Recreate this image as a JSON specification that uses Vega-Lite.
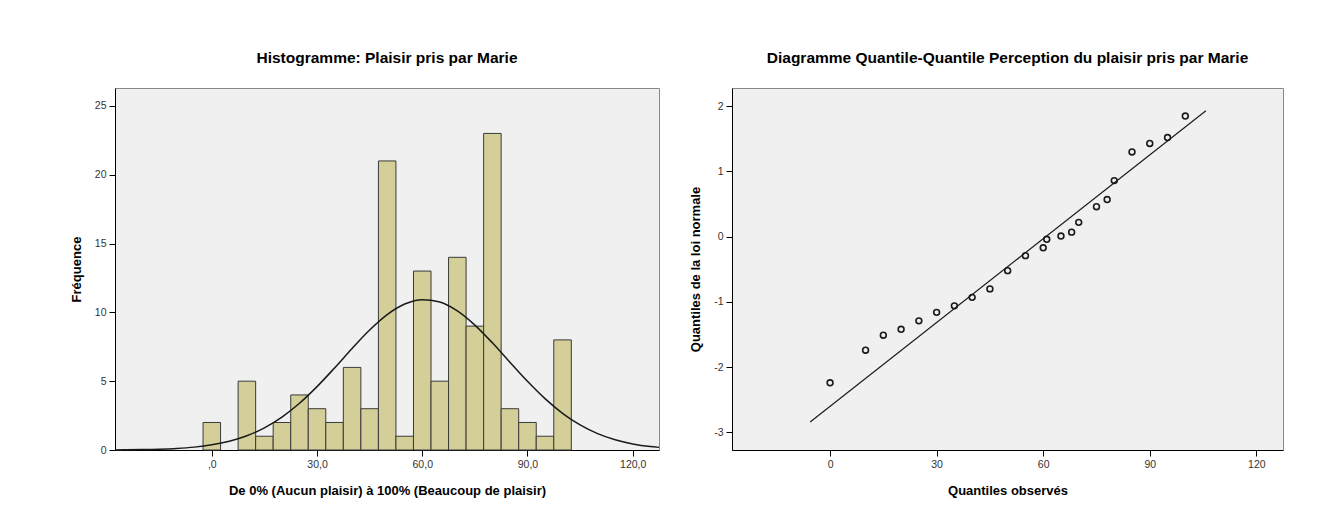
{
  "$schema": "https://vega.github.io/schema/vega-lite/v6.json",
  "background": "white",
  "padding": {"left": 69, "top": 50, "right": 0, "bottom": 0},
  "spacing": 26,
  "config": {
    "font": "Liberation Sans",
    "view": {"fill": "#F0F0F0", "stroke": "#888888", "strokeWidth": 1},
    "axis": {
      "grid": false,
      "domainColor": "#000000",
      "domainWidth": 1,
      "tickColor": "#000000",
      "tickSize": 6,
      "labelColor": "#333333",
      "labelFontSize": 10.5,
      "labelPadding": 3,
      "titleFontSize": 13,
      "titleFontWeight": "bold",
      "titleColor": "#000000"
    },
    "title": {"fontSize": 15.5, "fontWeight": "bold", "color": "#000000", "anchor": "middle", "offset": 22}
  },
  "datasets": {
    "hist": [
      {"start": -2.5, "end": 2.5, "count": 2},
      {"start": 7.5, "end": 12.5, "count": 5},
      {"start": 12.5, "end": 17.5, "count": 1},
      {"start": 17.5, "end": 22.5, "count": 2},
      {"start": 22.5, "end": 27.5, "count": 4},
      {"start": 27.5, "end": 32.5, "count": 3},
      {"start": 32.5, "end": 37.5, "count": 2},
      {"start": 37.5, "end": 42.5, "count": 6},
      {"start": 42.5, "end": 47.5, "count": 3},
      {"start": 47.5, "end": 52.5, "count": 21},
      {"start": 52.5, "end": 57.5, "count": 1},
      {"start": 57.5, "end": 62.5, "count": 13},
      {"start": 62.5, "end": 67.5, "count": 5},
      {"start": 67.5, "end": 72.5, "count": 14},
      {"start": 72.5, "end": 77.5, "count": 9},
      {"start": 77.5, "end": 82.5, "count": 23},
      {"start": 82.5, "end": 87.5, "count": 3},
      {"start": 87.5, "end": 92.5, "count": 2},
      {"start": 92.5, "end": 97.5, "count": 1},
      {"start": 97.5, "end": 102.5, "count": 8}
    ],
    "curve": [
      {"x": -27.6, "y": 0.009},
      {"x": -25, "y": 0.013},
      {"x": -20, "y": 0.028},
      {"x": -15, "y": 0.057},
      {"x": -10, "y": 0.112},
      {"x": -5, "y": 0.209},
      {"x": 0, "y": 0.374},
      {"x": 5, "y": 0.637},
      {"x": 10, "y": 1.036},
      {"x": 15, "y": 1.611},
      {"x": 20, "y": 2.393},
      {"x": 25, "y": 3.396},
      {"x": 30, "y": 4.604},
      {"x": 35, "y": 5.961},
      {"x": 40, "y": 7.373},
      {"x": 45, "y": 8.713},
      {"x": 50, "y": 9.836},
      {"x": 55, "y": 10.605},
      {"x": 60, "y": 10.925},
      {"x": 65, "y": 10.75},
      {"x": 70, "y": 10.106},
      {"x": 75, "y": 9.074},
      {"x": 80, "y": 7.784},
      {"x": 85, "y": 6.379},
      {"x": 90, "y": 4.994},
      {"x": 95, "y": 3.734},
      {"x": 100, "y": 2.667},
      {"x": 105, "y": 1.82},
      {"x": 110, "y": 1.187},
      {"x": 115, "y": 0.739},
      {"x": 120, "y": 0.44},
      {"x": 125, "y": 0.25},
      {"x": 127.5, "y": 0.19}
    ],
    "qq": [
      {"observed": 0, "expected": -2.24},
      {"observed": 10, "expected": -1.74},
      {"observed": 15, "expected": -1.51},
      {"observed": 20, "expected": -1.42},
      {"observed": 25, "expected": -1.29},
      {"observed": 30, "expected": -1.16},
      {"observed": 35, "expected": -1.06},
      {"observed": 40, "expected": -0.93},
      {"observed": 45, "expected": -0.8},
      {"observed": 50, "expected": -0.52},
      {"observed": 55, "expected": -0.29},
      {"observed": 60, "expected": -0.17},
      {"observed": 61, "expected": -0.04},
      {"observed": 65, "expected": 0.01},
      {"observed": 68, "expected": 0.07},
      {"observed": 70, "expected": 0.22},
      {"observed": 75, "expected": 0.46},
      {"observed": 78, "expected": 0.57},
      {"observed": 80, "expected": 0.86},
      {"observed": 85, "expected": 1.3},
      {"observed": 90, "expected": 1.43},
      {"observed": 95, "expected": 1.52},
      {"observed": 100, "expected": 1.85}
    ],
    "qqline": [
      {"observed": -5.6, "expected": -2.84},
      {"observed": 105.8, "expected": 1.93}
    ]
  },
  "hconcat": [
    {
      "width": 544,
      "height": 362,
      "title": "Histogramme: Plaisir pris par Marie",
      "layer": [
        {
          "data": {"name": "hist"},
          "mark": {"type": "bar", "fill": "#D4CF98", "stroke": "#3A3A3A", "strokeWidth": 1},
          "encoding": {
            "x": {"field": "start", "type": "quantitative",
                  "scale": {"domain": [-27.6, 127.5], "nice": false, "zero": false},
                  "axis": {"values": [0, 30, 60, 90, 120], "title": "De 0% (Aucun plaisir) à 100% (Beaucoup de plaisir)",
                           "labelExpr": "datum.value === 0 ? ',0' : replace(format(datum.value, '.1f'), '.', ',')",
                           "titlePadding": 15}},
            "x2": {"field": "end"},
            "y": {"field": "count", "type": "quantitative",
                  "scale": {"domain": [0, 26.3], "nice": false},
                  "axis": {"values": [0, 5, 10, 15, 20, 25], "title": "Fréquence", "titlePadding": 11}},
            "y2": {"datum": 0}
          }
        },
        {
          "data": {"name": "curve"},
          "mark": {"type": "line", "color": "#1A1A1A", "strokeWidth": 1.5, "interpolate": "monotone"},
          "encoding": {
            "x": {"field": "x", "type": "quantitative"},
            "y": {"field": "y", "type": "quantitative"}
          }
        }
      ]
    },
    {
      "width": 551,
      "height": 362,
      "title": "Diagramme Quantile-Quantile Perception du plaisir pris par Marie",
      "layer": [
        {
          "data": {"name": "qqline"},
          "mark": {"type": "line", "color": "#1A1A1A", "strokeWidth": 1.2},
          "encoding": {
            "x": {"field": "observed", "type": "quantitative",
                  "scale": {"domain": [-27.6, 127.5], "nice": false, "zero": false},
                  "axis": {"values": [0, 30, 60, 90, 120], "format": "d", "title": "Quantiles observés", "titlePadding": 15}},
            "y": {"field": "expected", "type": "quantitative",
                  "scale": {"domain": [-3.27, 2.28], "nice": false, "zero": false},
                  "axis": {"values": [-3, -2, -1, 0, 1, 2], "labelExpr": "'' + datum.value", "title": "Quantiles de la loi normale", "titlePadding": 11}}
          }
        },
        {
          "data": {"name": "qq"},
          "mark": {"type": "point", "shape": "circle", "filled": false, "stroke": "#1A1A1A", "strokeWidth": 1.6, "size": 34, "opacity": 1},
          "encoding": {
            "x": {"field": "observed", "type": "quantitative"},
            "y": {"field": "expected", "type": "quantitative"}
          }
        }
      ]
    }
  ]
}
